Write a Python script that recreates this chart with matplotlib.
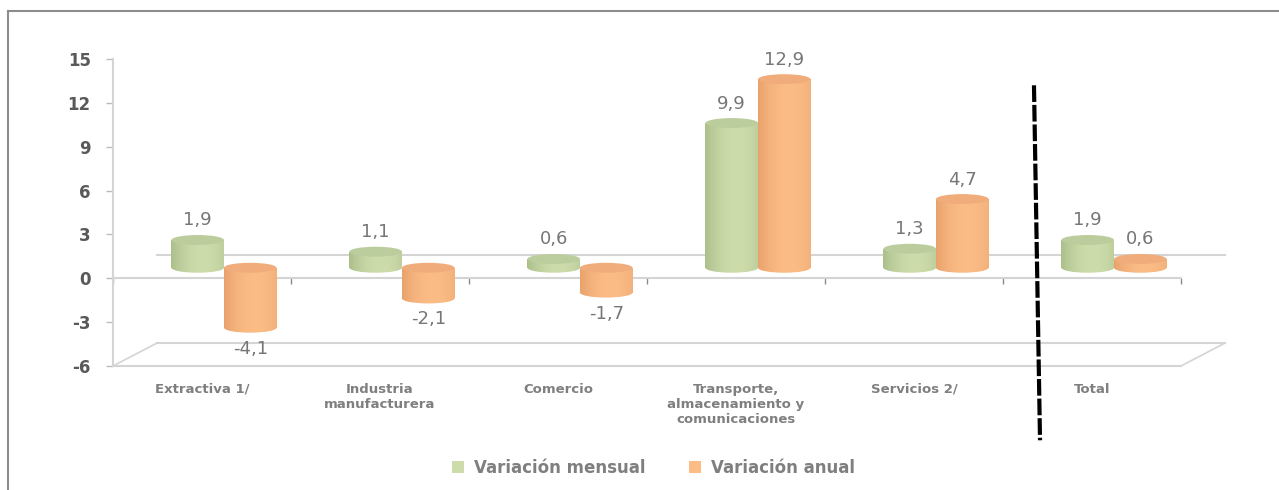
import matplotlib
matplotlib.use('Agg')

import numpy as np
import matplotlib.pyplot as plt
from matplotlib.patches import Rectangle, Ellipse, Patch
from matplotlib.lines import Line2D

plt.rcParams['font.family'] = ['DejaVu Sans']
plt.rcParams['axes.unicode_minus'] = False

categories = [
    'Extractiva 1/',
    'Industria\nmanufacturera',
    'Comercio',
    'Transporte,\nalmacenamiento y\ncomunicaciones',
    'Servicios 2/',
    'Total',
]
mensual = [1.9, 1.1, 0.6, 9.9, 1.3, 1.9]
anual = [-4.1, -2.1, -1.7, 12.9, 4.7, 0.6]
series_names = ['Variación mensual', 'Variación anual']

# colours: (edge, centre, cap)
green = ('#abbf8b', '#cddcab', '#bccd9d')
orange = ('#e9a26c', '#fbbc86', '#f0ad7b')

W, H = 1279, 490
fig = plt.figure(figsize=(W / 100, H / 100), dpi=100)
ax = fig.add_axes([113 / W, 1 - 366 / H, (1181 - 113) / W, (366 - 59) / H])
ax.set_xlim(-0.5, 5.5)
ax.set_ylim(-6, 15)

depth_x = 0.247   # depth offset of the 3d box, category units
depth_y = 1.57    # same in value units
base = 0.72       # bars stand in the middle of the depth
bar_w = 0.295
cap_h = 0.68

grid_c = '#d4d4d4'


def gradient(edge, mid, n=64):
    t = np.linspace(0, 1, n)
    s = 1 - np.clip(np.abs(t - 0.6) / 0.6, 0, 1) ** 2
    e = np.array(matplotlib.colors.to_rgb(edge))
    m = np.array(matplotlib.colors.to_rgb(mid))
    return (e[None, :] * (1 - s[:, None]) + m[None, :] * s[:, None])[None, :, :]


def cylinder(xc, value, cols, z):
    lo, hi = sorted([base, base + value])
    img = gradient(cols[0], cols[1])
    body = Rectangle((xc - bar_w / 2, lo), bar_w, hi - lo,
                     facecolor='none', edgecolor='none')
    bottom = Ellipse((xc, lo), bar_w, cap_h, facecolor='none', edgecolor='none')
    for clip in (bottom, body):
        ax.add_patch(clip)
        im = ax.imshow(img, extent=(xc - bar_w / 2, xc + bar_w / 2,
                                    lo - cap_h, hi + cap_h),
                       aspect='auto', interpolation='bilinear', zorder=z)
        im.set_clip_path(clip)
    ax.add_patch(Ellipse((xc, hi), bar_w, cap_h, facecolor=cols[2],
                         edgecolor='none', zorder=z + 0.1))


# back wall lines and floor
ax.plot([-0.5 + depth_x, 5.5 + depth_x], [depth_y, depth_y],
        color=grid_c, lw=1.5, clip_on=False, zorder=1)
ax.plot([-0.5, 5.5], [-6, -6], color=grid_c, lw=1.5, clip_on=False, zorder=1)
ax.plot([-0.5 + depth_x, 5.5 + depth_x], [-6 + depth_y, -6 + depth_y],
        color=grid_c, lw=1.5, clip_on=False, zorder=1)
ax.plot([-0.5, -0.5 + depth_x], [-6, -6 + depth_y],
        color=grid_c, lw=1.2, clip_on=False, zorder=1)
ax.plot([5.5, 5.5 + depth_x], [-6, -6 + depth_y],
        color=grid_c, lw=1.2, clip_on=False, zorder=1)

shift = depth_x / 2
for i in range(len(categories)):
    xg = i + shift - bar_w / 2
    xo = i + shift + bar_w / 2
    cylinder(xg, mensual[i], green, 3 + i)
    cylinder(xo, anual[i], orange, 3.5 + i)
    for xc, v in ((xg, mensual[i]), (xo, anual[i])):
        txt = f'{v:.1f}'.replace('.', ',')
        if v >= 0:
            ax.annotate(txt, (xc, base + v + cap_h / 2), xytext=(0, 4),
                        textcoords='offset points', ha='center', va='bottom',
                        fontsize=13, color='#767676', zorder=20)
        else:
            ax.annotate(txt, (xc, base + v - cap_h / 2), xytext=(0, -5),
                        textcoords='offset points', ha='center', va='top',
                        fontsize=13, color='#767676', zorder=20)
    ax.annotate(categories[i], (i, -6), xytext=(0, -12),
                textcoords='offset points', ha='center', va='top',
                fontsize=9.5, fontweight='bold', color='#7f7f7f',
                linespacing=1.2, annotation_clip=False)

ax.set_xlim(-0.5, 5.5)
ax.set_ylim(-6, 15)

for s in ('top', 'right'):
    ax.spines[s].set_visible(False)
ax.spines['left'].set_color(grid_c)
ax.spines['left'].set_linewidth(1.5)
ax.spines['bottom'].set_position(('data', 0))
ax.spines['bottom'].set_color(grid_c)
ax.spines['bottom'].set_linewidth(1.5)
ax.set_xticks(np.arange(-0.5, 6, 1))
ax.set_xticklabels([])
ax.tick_params(axis='x', length=4.5, width=1, color='#8a8a8a', direction='out')
ax.set_yticks(range(-6, 16, 3))
ax.tick_params(axis='y', length=5, width=1, color='#bcbcbc', pad=11,
               labelsize=12, labelcolor='#595959')
for lab in ax.get_yticklabels():
    lab.set_fontweight('bold')
ax.patch.set_visible(False)

# separator before the total
ax.plot([4.674, 4.708], [13.2, -11.08], color='black', lw=3,
        linestyle=(0, (4, 0.7)), clip_on=False, zorder=30)

# outer frame (top and left only)
fig.add_artist(Line2D([8 / W, 1], [1 - 11 / H, 1 - 11 / H],
                      color='#8c8c8c', lw=1.5))
fig.add_artist(Line2D([8 / W, 8 / W], [0, 1 - 11 / H],
                      color='#8c8c8c', lw=1.5))

handles = [Patch(facecolor=green[1], edgecolor='none'),
           Patch(facecolor=orange[1], edgecolor='none')]
leg = fig.legend(handles, series_names, loc='center', ncol=2,
                 bbox_to_anchor=(0.511, 1 - 468 / H), frameon=False,
                 handlelength=0.7, handleheight=0.7, handletextpad=0.6,
                 columnspacing=2.6, prop={'size': 12, 'weight': 'bold'})
for t in leg.get_texts():
    t.set_color('#7f7f7f')

fig.savefig('out.png', dpi=100)
plt.close(fig)
